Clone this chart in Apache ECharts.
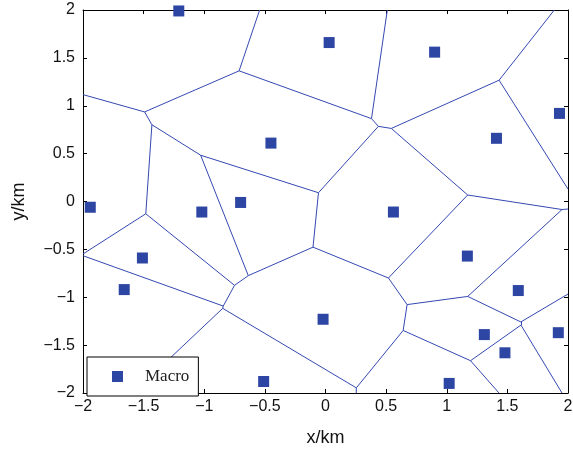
<!DOCTYPE html>
<html>
<head>
<meta charset="utf-8">
<script src="https://cdn.jsdelivr.net/npm/echarts@6/dist/echarts.min.js"></script>
<style>
html, body { margin: 0; padding: 0; background: #fff; }
#main { width: 573px; height: 450px; }
</style>
</head>
<body>
<div id="main"></div>
<script>
// macro base station positions, km
var siteX = [-1.21, -0.45, -0.70, -1.94, -1.02, -1.51, -1.66, -0.51, -0.02, 0.03,
	0.90, 1.93, 1.41, 0.56, 1.17, 1.59, 1.31, 1.92, 1.48, 1.02];
var siteY = [1.99, 0.61, -0.01, -0.06, -0.11, -0.59, -0.92, -1.88, -1.23, 1.66,
	1.56, 0.92, 0.66, -0.11, -0.57, -0.93, -1.39, -1.37, -1.58, -1.90];

var axisMin = -2;
var axisMax = 2;
var axisStep = 0.5;
var seriesName = 'Macro';

var LINE_COLOR = '#3448b2';
var MARK_COLOR = '#2d45a3';

// cut a polygon by half plane nx*x + ny*y <= c, every vertex keeps the tag of the edge leaving it
function clipPoly(poly, nx, ny, c, tag) {
	var out = [];
	var n = poly.length;
	for (var k = 0; k < n; k++) {
		var a = poly[k];
		var b = poly[(k + 1) % n];
		var da = nx * a.x + ny * a.y - c;
		var db = nx * b.x + ny * b.y - c;
		if (da <= 0) {
			out.push({ x: a.x, y: a.y, t: a.t });
		}
		if ((da <= 0) != (db <= 0)) {
			var s = da / (da - db);
			var px = a.x + (b.x - a.x) * s;
			var py = a.y + (b.y - a.y) * s;
			out.push({ x: px, y: py, t: da <= 0 ? tag : a.t });
		}
	}
	return out;
}

// voronoi cells inside the plot box, only the inner edges are returned
function voronoiEdges() {
	var edges = [];
	for (var i = 0; i < siteX.length; i++) {
		var poly = [
			{ x: axisMin, y: axisMin, t: -1 },
			{ x: axisMax, y: axisMin, t: -1 },
			{ x: axisMax, y: axisMax, t: -1 },
			{ x: axisMin, y: axisMax, t: -1 }
		];
		for (var j = 0; j < siteX.length; j++) {
			if (j == i) continue;
			var nx = siteX[j] - siteX[i];
			var ny = siteY[j] - siteY[i];
			var c = (siteX[j] * siteX[j] + siteY[j] * siteY[j] - siteX[i] * siteX[i] - siteY[i] * siteY[i]) / 2;
			poly = clipPoly(poly, nx, ny, c, j);
		}
		for (var k = 0; k < poly.length; k++) {
			var p = poly[k];
			var q = poly[(k + 1) % poly.length];
			if (p.t > i) {
				edges.push({ coords: [[p.x, p.y], [q.x, q.y]] });
			}
		}
	}
	return edges;
}

function tickText(v) {
	if (v < 0) return '\u2212' + Math.abs(v);
	return String(v);
}

function renderChart() {
	var points = [];
	for (var i = 0; i < siteX.length; i++) {
		points.push([siteX[i], siteY[i]]);
	}

	var frameLine = { show: true, onZero: false, lineStyle: { color: '#000', width: 1 } };
	var frameTick = { show: true, inside: true, length: 4, lineStyle: { color: '#000', width: 1 } };

	var myChart = echarts.init(document.getElementById('main'));
	myChart.setOption({
		animation: false,
		backgroundColor: '#fff',
		grid: {
			left: 83,
			right: 5,
			top: 10,
			bottom: 57,
			outerBoundsMode: 'none'
		},
		legend: {
			show: true,
			left: 87,
			top: 357,
			orient: 'vertical',
			icon: 'rect',
			itemWidth: 11,
			itemHeight: 11,
			padding: [11, 9, 11, 25],
			borderColor: '#000',
			borderWidth: 1,
			borderRadius: 0,
			backgroundColor: '#fff',
			textStyle: {
				fontFamily: 'Liberation Serif',
				fontSize: 17,
				color: '#222',
				padding: [0, 0, 0, 17]
			},
			data: [seriesName]
		},
		xAxis: [{
			type: 'value',
			position: 'bottom',
			min: axisMin,
			max: axisMax,
			interval: axisStep,
			name: 'x/km',
			nameLocation: 'middle',
			nameGap: 36,
			nameTextStyle: { fontFamily: 'Liberation Sans', fontSize: 18, color: '#111' },
			axisLine: frameLine,
			axisTick: frameTick,
			axisLabel: {
				formatter: tickText,
				margin: 6,
				fontFamily: 'Liberation Sans',
				fontSize: 16,
				color: '#111'
			},
			splitLine: { show: false }
		}, {
			type: 'value',
			position: 'top',
			min: axisMin,
			max: axisMax,
			interval: axisStep,
			axisLine: frameLine,
			axisTick: frameTick,
			axisLabel: { show: false },
			splitLine: { show: false }
		}],
		yAxis: [{
			type: 'value',
			position: 'left',
			min: axisMin,
			max: axisMax,
			interval: axisStep,
			name: 'y/km',
			nameLocation: 'middle',
			nameRotate: 90,
			nameGap: 55,
			nameTextStyle: { fontFamily: 'Liberation Sans', fontSize: 18, color: '#111' },
			axisLine: frameLine,
			axisTick: frameTick,
			axisLabel: {
				formatter: tickText,
				margin: 8,
				fontFamily: 'Liberation Sans',
				fontSize: 16,
				color: '#111'
			},
			splitLine: { show: false }
		}, {
			type: 'value',
			position: 'right',
			min: axisMin,
			max: axisMax,
			interval: axisStep,
			axisLine: frameLine,
			axisTick: frameTick,
			axisLabel: { show: false },
			splitLine: { show: false }
		}],
		series: [{
			name: 'cells',
			type: 'lines',
			coordinateSystem: 'cartesian2d',
			xAxisIndex: 0,
			yAxisIndex: 0,
			z: 1,
			silent: true,
			lineStyle: { color: LINE_COLOR, width: 1, opacity: 1, curveness: 0 },
			data: voronoiEdges()
		}, {
			name: seriesName,
			type: 'scatter',
			xAxisIndex: 0,
			yAxisIndex: 0,
			z: 3,
			symbol: 'rect',
			symbolSize: 11,
			itemStyle: { color: MARK_COLOR, opacity: 1 },
			data: points
		}]
	});
}

renderChart();
</script>
</body>
</html>
